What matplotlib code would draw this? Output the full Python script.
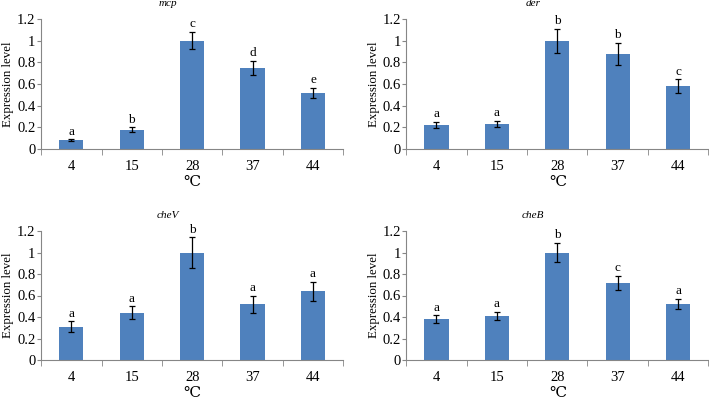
import numpy as np
import matplotlib.pyplot as plt
from matplotlib.ticker import FixedLocator

plt.rcParams['font.family'] = ['Liberation Serif', 'DejaVu Serif']

temps = ['4', '15', '28', '37', '44']
genes = ['mcp', 'der', 'cheV', 'cheB']

mcp_vals = [0.08, 0.18, 1.0, 0.75, 0.52]
mcp_err = [0.01, 0.02, 0.08, 0.065, 0.045]
mcp_sig = ['a', 'b', 'c', 'd', 'e']

der_vals = [0.22, 0.23, 1.0, 0.88, 0.58]
der_err = [0.03, 0.03, 0.11, 0.10, 0.065]
der_sig = ['a', 'a', 'b', 'b', 'c']

chev_vals = [0.31, 0.44, 1.0, 0.52, 0.64]
chev_err = [0.05, 0.06, 0.14, 0.08, 0.09]
chev_sig = ['a', 'a', 'b', 'a', 'a']

cheb_vals = [0.38, 0.41, 1.0, 0.72, 0.52]
cheb_err = [0.035, 0.04, 0.09, 0.065, 0.05]
cheb_sig = ['a', 'a', 'b', 'c', 'a']

values = [mcp_vals, der_vals, chev_vals, cheb_vals]
errors = [mcp_err, der_err, chev_err, cheb_err]
letters = [mcp_sig, der_sig, chev_sig, cheb_sig]

# axes boxes in figure fractions: left, bottom, width, height
boxes = [
    (0.058, 0.6275, 0.426, 0.325),
    (0.573, 0.6275, 0.426, 0.325),
    (0.058, 0.100, 0.426, 0.3225),
    (0.573, 0.100, 0.426, 0.3225),
]

bar_color = '#4F81BD'
axis_color = '#868686'

fig = plt.figure(figsize=(7.09, 4.0), dpi=100)

for box, gene, vals, errs, sig in zip(boxes, genes, values, errors, letters):
    ax = fig.add_axes(box)
    x = np.arange(len(temps))
    ax.bar(x, vals, width=0.4, color=bar_color, zorder=2)
    ax.errorbar(x, vals, yerr=errs, fmt='none', ecolor='black',
                elinewidth=0.9, capsize=2.5, capthick=0.9, zorder=3)
    for xi, v, e, s in zip(x, vals, errs, sig):
        ax.text(xi, v + e + 0.015, s, ha='center', va='bottom', fontsize=9.5)

    ax.set_xlim(-0.5, len(temps) - 0.5)
    ax.set_ylim(0, 1.2)
    ax.set_yticks([0, 0.2, 0.4, 0.6, 0.8, 1.0, 1.2])
    ax.set_yticklabels(['0', '0.2', '0.4', '0.6', '0.8', '1', '1.2'])
    ax.set_xticks(x)
    ax.set_xticklabels(temps)
    ax.xaxis.set_minor_locator(FixedLocator(np.arange(-0.5, len(temps), 1.0)))
    ax.tick_params(axis='x', which='major', length=0, pad=8, labelsize=10.5)
    ax.tick_params(axis='x', which='minor', length=4, color=axis_color, direction='out')
    ax.tick_params(axis='y', length=3, color=axis_color, labelsize=10.5, pad=1)

    for side in ['top', 'right']:
        ax.spines[side].set_visible(False)
    for side in ['left', 'bottom']:
        ax.spines[side].set_color(axis_color)
        ax.spines[side].set_linewidth(0.8)

    ax.set_ylabel('Expression level', fontsize=9.3, labelpad=2)
    ax.set_xlabel('℃', fontsize=11, labelpad=2)
    ax.text(0.42, 1.123, gene, transform=ax.transAxes, ha='center', va='center',
            fontsize=8, style='italic')

fig.savefig('out.png', dpi=100)
